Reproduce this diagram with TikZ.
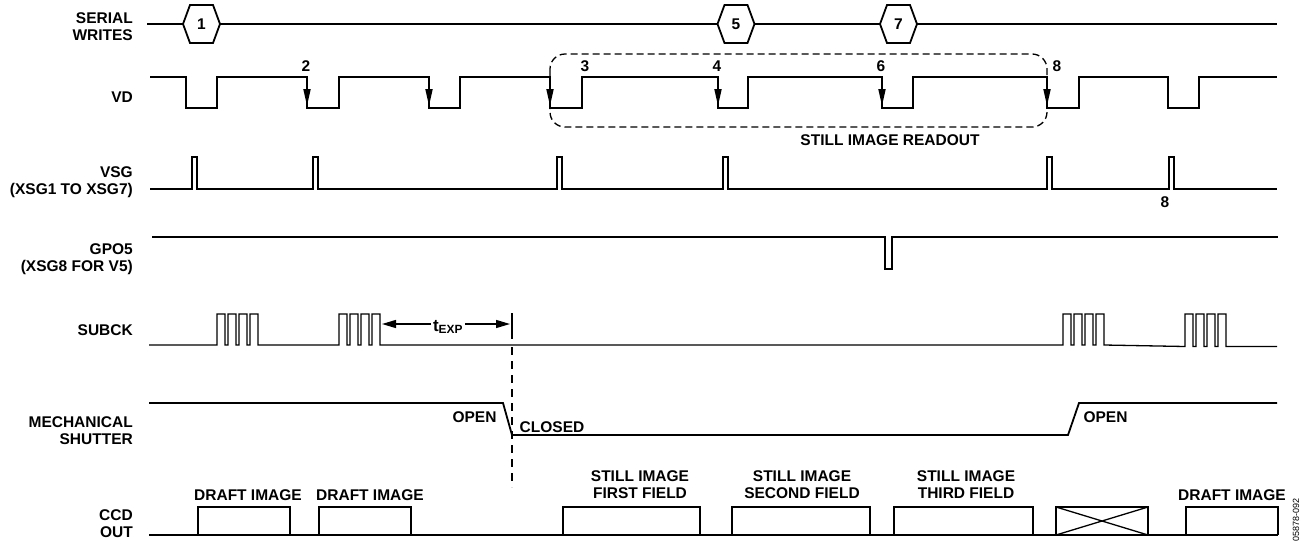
\documentclass[tikz,border=0pt]{standalone}
\usepackage{fontspec}
\setmainfont{Liberation Sans}
\usetikzlibrary{arrows.meta}

\begin{document}
\begin{tikzpicture}[x=1pt, y=-1pt,
    wave/.style={line width=1.8pt, line join=miter},
    thinwave/.style={line width=1.3pt},
    lbl/.style={font=\bfseries\fontsize{15.5}{17}\selectfont, inner sep=0pt, align=center},
    sig/.style={lbl, anchor=east, align=right},
    edgetip/.style={-{Triangle[length=17pt,width=7pt]}}]

    % Fix page size
    \useasboundingbox (0,0) rectangle (1301,544);

    % Define levels
    \def\vdHigh{77}
    \def\vdLow{108}
    \def\vsgLow{189}
    \def\vsgHigh{157}
    \def\subLow{345}
    \def\subHigh{314}
    \def\ccdBase{535}
    \def\ccdTop{507}

    % Define serial write marker
    \def\serialhex#1#2#3{%
        \filldraw[fill=white, wave] (#1-18.5,24) -- (#1-11.5,5) -- (#1+11.5,5) -- (#1+18.5,24)
            -- (#1+11.5,43) -- (#1-11.5,43) -- cycle;
        \node[lbl] (#3) at (#1,24) {#2};}

    % Signal names
    \node[sig] (nSerial) at (133,26.5) {SERIAL\\WRITES};
    \node[sig] (nVD) at (133,97) {VD};
    \node[sig] (nVSG) at (133,182.5) {VSG\\(XSG1 TO XSG7)};
    \node[sig] (nGPO) at (133,259.5) {GPO5\\(XSG8 FOR V5)};
    \node[sig] (nSub) at (133,330) {SUBCK};
    \node[sig] (nShut) at (133,430.5) {MECHANICAL\\SHUTTER};
    \node[sig] (nCCD) at (133,523.5) {CCD\\OUT};

    % Draw serial writes
    \draw[wave] (147,24) -- (1277,24);
    \serialhex{201.5}{1}{sw1}
    \serialhex{736}{5}{sw5}
    \serialhex{898.5}{7}{sw7}

    % Draw VD
    \draw[wave] (150,\vdHigh)
        foreach \f/\r in {186/217,307/339,429/460,550/582,718/748,882/913,1047/1079,1168/1199}
        { -- (\f,\vdHigh) -- (\f,\vdLow) -- (\r,\vdLow) -- (\r,\vdHigh) } -- (1277,\vdHigh);
    \foreach \f in {307,429,550,718,882,1047}
        \draw[wave, edgetip] (\f,\vdHigh) -- (\f,\vdLow-2);
    \foreach \x/\n in {306/2,585/3,717/4,881/6,1057/8}
        \node[lbl] (vd\n) at (\x,66) {\n};

    % Draw still image readout box
    \draw[thinwave, dash pattern=on 7pt off 4pt, rounded corners=15pt] (550,54) rectangle (1047,127);
    \node[lbl] (readout) at (890,140) {STILL IMAGE READOUT};

    % Draw VSG
    \draw[wave] (150,\vsgLow)
        foreach \p in {192,313,557,723,1047,1169}
        { -- (\p,\vsgLow) -- (\p,\vsgHigh) -- (\p+5,\vsgHigh) -- (\p+5,\vsgLow) } -- (1277,\vsgLow);
    \node[lbl] (vsg8) at (1165,202) {8};

    % Draw GPO5
    \draw[wave] (152,237) -- (885,237) -- (885,269) -- (892,269) -- (892,237) -- (1278,237);

    % Draw SUBCK
    \draw[thinwave] (149,\subLow)
        foreach \b/\y in {217/345,339/345,1063/345,1185/346.5}
        { foreach \k in {0,11,22,33}
            { -- (\b+\k,\y) -- (\b+\k,\subHigh) -- (\b+\k+8,\subHigh) -- (\b+\k+8,\y) } }
        -- (1277,346.5);

    % Draw exposure time
    \node[lbl, inner sep=2pt] (texp) at (448,327) {\fontsize{17}{17}\selectfont t\textsubscript{EXP}};
    \coordinate (texpL) at (382,324);
    \coordinate (texpR) at (510,324);
    \draw[thinwave, -{Triangle[length=14pt,width=8pt]}] (texp.west |- texpL) -- (texpL);
    \draw[thinwave, -{Triangle[length=14pt,width=8pt]}] (texp.east |- texpR) -- (texpR);
    \draw[thinwave] (512,313) -- (512,339);
    \draw[thinwave, dash pattern=on 8pt off 6pt] (512,347) -- (512,487);

    % Draw mechanical shutter
    \draw[wave] (149,403) -- (503,403) -- (512,435) -- (1068,435) -- (1079,403) -- (1277,403);
    \node[lbl] (open1) at (474.5,417) {OPEN};
    \node[lbl] (closed) at (552,427) {CLOSED};
    \node[lbl] (open2) at (1105.5,417) {OPEN};

    % Draw CCD out
    \draw[wave] (149,\ccdBase) -- (1278,\ccdBase);
    \foreach \l/\r [count=\i] in {198/290,319/411,563/700,732/870,894/1033,1186/1278}
        \draw[wave] (\l,\ccdBase) |- (\r,\ccdTop) -- (\r,\ccdBase);
    \draw[wave] (1056,\ccdBase) rectangle (1148,\ccdTop);
    \draw[thinwave] (1056,\ccdBase) -- (1148,\ccdTop) (1056,\ccdTop) -- (1148,\ccdBase);

    % Label CCD fields
    \node[lbl] (draft1) at (248,495) {DRAFT IMAGE};
    \node[lbl] (draft2) at (370,495) {DRAFT IMAGE};
    \node[lbl] (field1) at (640,485) {STILL IMAGE\\FIRST FIELD};
    \node[lbl] (field2) at (802,485) {STILL IMAGE\\SECOND FIELD};
    \node[lbl] (field3) at (966,485) {STILL IMAGE\\THIRD FIELD};
    \node[lbl] (draft3) at (1232,495) {DRAFT IMAGE};

    % Figure number
    \node[font=\fontsize{9}{11}\selectfont, rotate=90, anchor=west, inner sep=0pt] (fignum) at (1296,542) {05878-092};

\end{tikzpicture}
\end{document}
